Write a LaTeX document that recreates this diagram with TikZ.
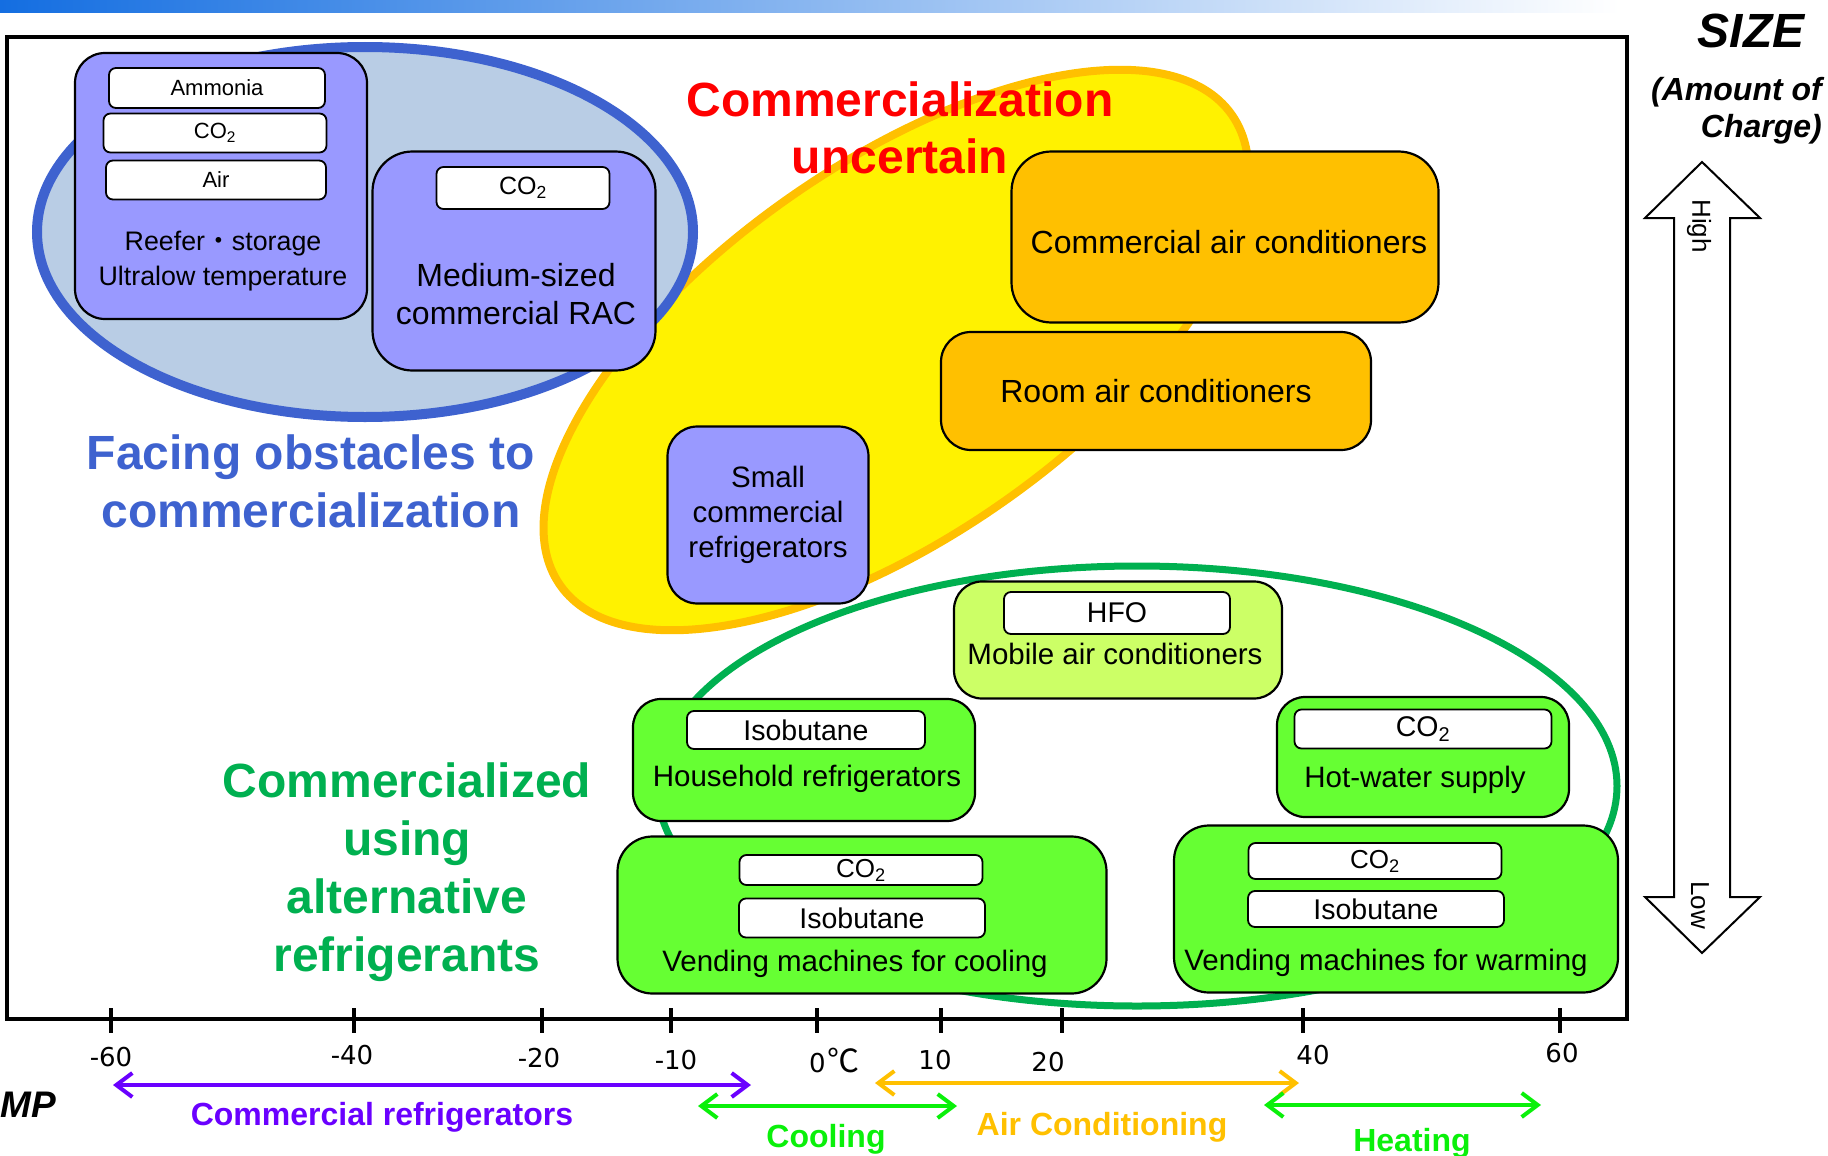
\documentclass[tikz,border=0pt]{standalone}
\usepackage{fontspec}
\setmainfont{Liberation Sans}
\newfontfamily\tickfont{DejaVu Sans}
\newfontfamily\cjkfont{Noto Sans CJK JP}
\usetikzlibrary{arrows.meta}

\definecolor{barblue}{RGB}{20,110,225}
\definecolor{barmid}{RGB}{110,175,245}
\definecolor{lilac}{RGB}{153,153,255}
\definecolor{amber}{RGB}{255,192,0}
\definecolor{palelime}{RGB}{204,255,102}
\definecolor{leaf}{RGB}{102,255,51}
\definecolor{skyfill}{RGB}{185,205,229}
\definecolor{royal}{RGB}{62,98,207}
\definecolor{okgreen}{RGB}{0,176,80}
\definecolor{brightgreen}{RGB}{10,240,10}
\definecolor{refviolet}{RGB}{106,0,255}

\newcommand\sz[2]{\fontsize{#1}{#2}\selectfont}

\tikzset{
  box/.style={draw=black, line width=2.2pt, rounded corners=30pt, inner sep=0pt},
  purplebox/.style={box, fill=lilac},
  orangebox/.style={box, fill=amber},
  limebox/.style={box, fill=palelime},
  greenbox/.style={box, fill=leaf},
  gasbox/.style={draw=black, line width=1.8pt, fill=white, rounded corners=7pt,
    inner sep=0pt, font=\sz{28.5}{33}},
  boxtext/.style={font=\sz{29.5}{35}},
  headline/.style={font=\bfseries\sz{48}{58}, align=center},
  rangearrow/.style={line width=4pt,
    {Straight Barb[length=16pt,width=24pt]}-{Straight Barb[length=16pt,width=24pt]}},
  rangelabel/.style={font=\bfseries\sz{32}{36}}
}

\begin{document}
\begin{tikzpicture}[x=1pt,y=-1pt]
    \useasboundingbox (0,0) rectangle (1828,1156);
    %% title bar
    \shade[left color=barblue, middle color=barmid, right color=white] (0,0) rectangle (1620,13);
    %% frame
    \draw[line width=3.5pt] (7,37) rectangle (1627,1019);

    %% groups
    \draw[amber, fill=yellow, line width=8pt, rotate around={35:(896,350)}]
        (896,350) ellipse [x radius=410pt, y radius=186pt];
    \draw[royal, fill=skyfill, line width=10pt]
        (365,232) ellipse [x radius=328pt, y radius=185pt];
    \draw[okgreen, line width=7pt]
        (1137,786) ellipse [x radius=480pt, y radius=220pt];

    %% facing obstacles
    \node[purplebox, minimum width=292pt, minimum height=266pt] (reefer) at (221,186) {};
    \node[gasbox, font=\sz{22}{26}, minimum width=216pt, minimum height=40pt] (ammonia) at (217,88) {Ammonia};
    \node[gasbox, font=\sz{22}{26}, minimum width=223pt, minimum height=39pt] (reeferco) at (215,133) {CO\textsubscript{2}};
    \node[gasbox, font=\sz{22}{26}, minimum width=220pt, minimum height=39pt] (air) at (216,180) {Air};
    \node[font=\sz{26.8}{35}, align=center] (reefertxt) at (223,261)
        {Reefer{\cjkfont ・}storage\\Ultralow temperature};

    \node[purplebox, rounded corners=40pt, minimum width=283pt, minimum height=219pt] (rac) at (514,261) {};
    \node[gasbox, font=\sz{25}{30}, minimum width=173pt, minimum height=42pt] (racco) at (523,188) {CO\textsubscript{2}};
    \node[font=\sz{32}{38}, align=center] (ractxt) at (516,294) {Medium-sized\\commercial RAC};

    \node[purplebox, boxtext, minimum width=201pt, minimum height=177pt, align=center]
        (smallref) at (768,515) {Small\\commercial\\refrigerators};

    %% uncertain
    \node[orangebox, rounded corners=40pt, minimum width=427pt, minimum height=171pt] (commac) at (1225,237) {};
    \node[font=\sz{32}{36}] (commactxt) at (1229,242) {Commercial air conditioners};
    \node[orangebox, minimum width=430pt, minimum height=118pt, font=\sz{32}{36}]
        (roomac) at (1156,391) {Room air conditioners};

    %% commercialized
    \node[limebox, rounded corners=28pt, minimum width=328pt, minimum height=117pt] (mobile) at (1118,640) {};
    \node[gasbox, minimum width=226pt, minimum height=42pt] (hfo) at (1117,613) {HFO};
    \node[boxtext] (mobiletxt) at (1115,654) {Mobile air conditioners};

    \node[greenbox, rounded corners=28pt, minimum width=342pt, minimum height=122pt] (household) at (804,760) {};
    \node[gasbox, minimum width=238pt, minimum height=38pt] (householdgas) at (806,730) {Isobutane};
    \node[boxtext] (householdtxt) at (807,779) {Household refrigerators};

    \node[greenbox, rounded corners=28pt, minimum width=292pt, minimum height=120pt] (hotwater) at (1423,757) {};
    \node[gasbox, minimum width=257pt, minimum height=39pt] (hotwatergas) at (1423,729) {CO\textsubscript{2}};
    \node[boxtext] (hotwatertxt) at (1415,780) {Hot-water supply};

    \node[greenbox, rounded corners=35pt, minimum width=489pt, minimum height=157pt] (vendcool) at (862,915) {};
    \node[gasbox, font=\sz{26}{30}, minimum width=243pt, minimum height=30pt] (vendcoolco) at (861,870) {CO\textsubscript{2}};
    \node[gasbox, minimum width=246pt, minimum height=39pt] (vendcoolbut) at (862,918) {Isobutane};
    \node[boxtext] (vendcooltxt) at (855,964) {Vending machines for cooling};

    \node[greenbox, rounded corners=35pt, minimum width=444pt, minimum height=167pt] (vendwarm) at (1396,909) {};
    \node[gasbox, font=\sz{26}{30}, minimum width=253pt, minimum height=36pt] (vendwarmco) at (1375,861) {CO\textsubscript{2}};
    \node[gasbox, minimum width=256pt, minimum height=36pt] (vendwarmbut) at (1376,909) {Isobutane};
    \node[boxtext] (vendwarmtxt) at (1386,963) {Vending machines for warming};

    %% headlines
    \node[headline, text=red, font=\bfseries\sz{48}{57}] (uncertain) at (900,128) {Commercialization\\uncertain};
    \node[headline, text=royal] (obstacles) at (311,481) {Facing obstacles to\\commercialization};
    \node[headline, text=okgreen] (commercialized) at (407,872) {Commercialized\\using\\alternative\\refrigerants};

    %% size axis
    \draw[line width=2pt, fill=white] (1702,162) -- (1760,218) -- (1730,218) -- (1730,897) -- (1760,897)
        -- (1702,953) -- (1645,897) -- (1674,897) -- (1674,218) -- (1645,218) -- cycle;
    \node[font=\sz{26}{30}, rotate=-90] (high) at (1699,226) {High};
    \node[font=\sz{26}{30}, rotate=-90] (low) at (1700,905) {Low};
    \node[font=\bfseries\itshape\sz{48}{50}, anchor=base, inner sep=0pt] (size) at (1751,48) {SIZE};
    \node[font=\bfseries\itshape\sz{32}{37}, align=right, anchor=north east, inner sep=0pt]
        (charge) at (1822,77) {(Amount of\\Charge)};

    %% temperature axis
    \foreach \tx/\lx/\ly/\t in {111/111/1057/-60, 354/352/1055/-40, 542/539/1058/-20,
        671/676/1060/-10, 941/935/1060/10, 1062/1048/1062/20, 1303/1313/1055/40, 1560/1562/1053/60} {
        \draw[line width=3.5pt] (\tx,1008) -- (\tx,1033);
        \node[font=\tickfont\sz{26}{30}] (tick\tx) at (\lx,\ly) {\t};
    }
    \draw[line width=3.5pt] (817,1008) -- (817,1033);
    \node[font=\tickfont\sz{26}{30}, anchor=west, inner sep=0pt] (zero) at (809,1060)
        {0\hspace{2pt}{\cjkfont\sz{32}{34}℃}};
    \node[font=\bfseries\itshape\sz{37}{40}, anchor=base west, inner sep=0pt] (mp) at (0,1117) {MP};

    %% ranges
    \coordinate (crA) at (113,1085);
    \coordinate (crB) at (751,1085);
    \draw[rangearrow, refviolet] (crA) -- (crB);
    \node[rangelabel, text=refviolet] (crtxt) at (382,1117) {Commercial refrigerators};

    \coordinate (coA) at (698,1106);
    \coordinate (coB) at (957,1106);
    \draw[rangearrow, brightgreen] (coA) -- (coB);
    \node[rangelabel, text=brightgreen] (cotxt) at (826,1139) {Cooling};

    \coordinate (acA) at (875,1083);
    \coordinate (acB) at (1299,1083);
    \draw[rangearrow, amber] (acA) -- (acB);
    \node[rangelabel, text=amber] (actxt) at (1102,1127) {Air Conditioning};

    \coordinate (heA) at (1264,1105);
    \coordinate (heB) at (1541,1105);
    \draw[rangearrow, brightgreen] (heA) -- (heB);
    \node[rangelabel, text=brightgreen] (hetxt) at (1412,1143) {Heating};
\end{tikzpicture}
\end{document}
